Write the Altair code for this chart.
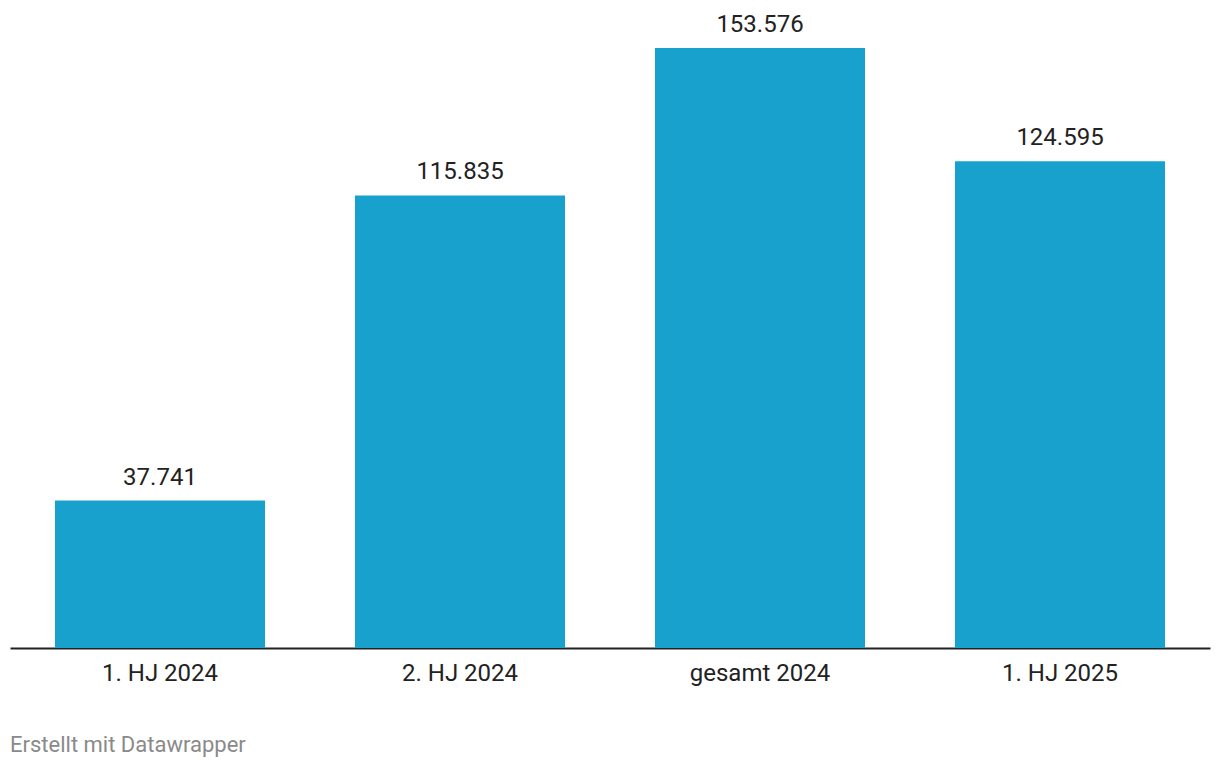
import altair as alt
import pandas as pd

categories = ["1. HJ 2024", "2. HJ 2024", "gesamt 2024", "1. HJ 2025"]
values = [37741, 115835, 153576, 124595]
labels = ["37.741", "115.835", "153.576", "124.595"]

df = pd.DataFrame({"cat": categories, "val": values, "lab": labels})

FONT = "Roboto"

x = alt.X(
    "cat:N",
    sort=categories,
    title=None,
    scale=alt.Scale(paddingInner=0.3, paddingOuter=0.15),
    axis=alt.Axis(
        labelAngle=0,
        ticks=False,
        tickSize=0,
        labelPadding=32,
        labelBaseline="alphabetic",
        labelFont=FONT,
        labelFontSize=24,
        labelColor="#222222",
        domainColor="#222222",
        domainWidth=2,
        grid=False,
    ),
)
y = alt.Y("val:Q", scale=alt.Scale(domain=[0, 153576], nice=False), axis=None)

bars = alt.Chart(df).mark_bar(color="#18a1cd").encode(x=x, y=y)
texts = alt.Chart(df).mark_text(
    font=FONT, fontSize=24, color="#222222", dy=-16, baseline="alphabetic"
).encode(x=x, y=y, text="lab:N")

footer = alt.Chart(pd.DataFrame({"t": ["Erstellt mit Datawrapper"]})).mark_text(
    font=FONT, fontSize=22, color="#8a8a8a", align="left", baseline="alphabetic"
).encode(x=alt.value(0), y=alt.value(704), text="t:N")

chart = (
    alt.layer(bars, texts, footer)
    .properties(
        width=1200,
        height=600,
        background="white",
        autosize=alt.AutoSizeParams(type="none"),
        padding={"left": 2, "top": 40, "right": 2, "bottom": 110},
    )
    .configure_view(strokeWidth=0, stroke="transparent")
)

chart.save("out.html", embed_options={"renderer": "svg", "actions": False})
